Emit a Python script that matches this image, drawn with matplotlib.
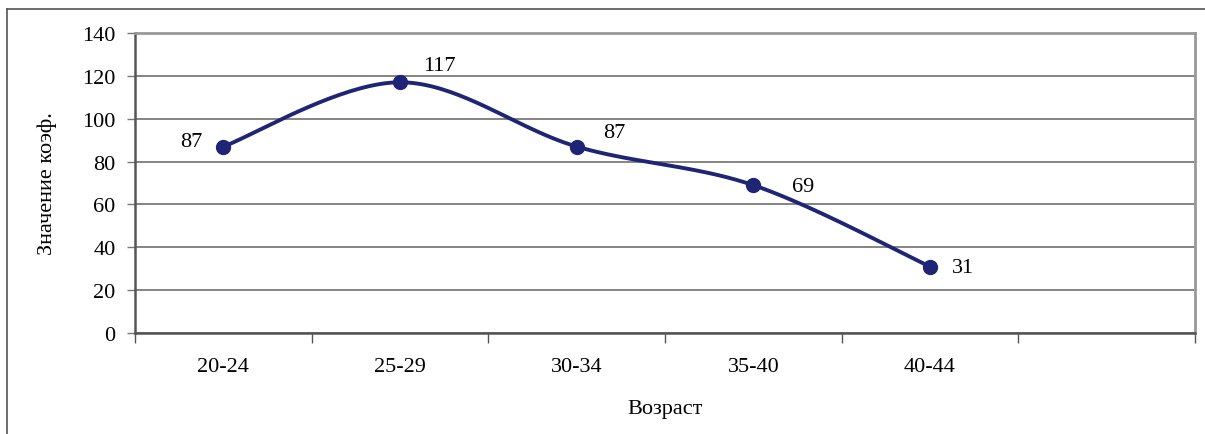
import numpy as np
import matplotlib
matplotlib.use("Agg")
import matplotlib.pyplot as plt

# Age groups and coefficient values
age_groups = ["20-24", "25-29", "30-34", "35-40", "40-44", ""]
values = [87, 117, 87, 69, 31]
y_ticks = [0, 20, 40, 60, 80, 100, 120, 140]

# label offsets (points) for each value
label_offsets = [(-23, 4), (28, 12), (27, 10), (36, -1), (24, -1)]

plt.rcParams['font.family'] = ['Liberation Serif', 'DejaVu Serif']
FS = 16

fig = plt.figure(figsize=(12.05, 4.35), dpi=100)
ax = fig.add_axes([135 / 1205, 1 - 334 / 435, (1195 - 135) / 1205, 300 / 435])

# outer chart frame (top and left edges visible)
fig.add_artist(plt.Line2D([7 / 1205, 1.0], [1 - 10 / 435, 1 - 10 / 435],
                          transform=fig.transFigure, color="#555555", lw=1.2))
fig.add_artist(plt.Line2D([7 / 1205, 7 / 1205], [0.0, 1 - 10 / 435],
                          transform=fig.transFigure, color="#555555", lw=1.2))


def smooth_curve(xs, ys, n=40):
    """Catmull-Rom style smoothed line through the points."""
    pts = np.column_stack([xs, ys]).astype(float)
    out = []
    for i in range(len(pts) - 1):
        p0 = pts[i - 1] if i > 0 else pts[i]
        p1 = pts[i]
        p2 = pts[i + 1]
        p3 = pts[i + 2] if i + 2 < len(pts) else pts[i + 1]
        c1 = p1 + (p2 - p0) / 6.0
        c2 = p2 - (p3 - p1) / 6.0
        t = np.linspace(0, 1, n)[:, None]
        seg = ((1 - t) ** 3) * p1 + 3 * ((1 - t) ** 2) * t * c1 + 3 * (1 - t) * t ** 2 * c2 + t ** 3 * p2
        out.append(seg if i == 0 else seg[1:])
    return np.vstack(out)


xs = np.arange(len(values))
curve = smooth_curve(xs, values)
line_color = "#1F2575"
ax.plot(curve[:, 0], curve[:, 1], color=line_color, lw=2.8, solid_capstyle="round", zorder=3)
ax.plot(xs, values, "o", color=line_color, ms=10, zorder=4)

for x, v, (dx, dy) in zip(xs, values, label_offsets):
    ax.annotate(str(v), (x, v), xytext=(dx, dy), textcoords="offset points",
                ha="center", va="center", fontsize=FS)

ax.set_xlim(-0.5, len(age_groups) - 0.5)
ax.set_ylim(0, 140)
ax.set_yticks(y_ticks)
ax.set_yticklabels([str(t) for t in y_ticks], fontsize=FS)
ax.yaxis.grid(True, color="#707070", lw=1.2)
ax.set_axisbelow(True)

# category tick marks between groups, labels centred in each slot
ax.set_xticks(np.arange(len(age_groups) + 1) - 0.5)
ax.set_xticklabels([])
ax.set_xticks(xs.tolist() + [len(age_groups) - 1], minor=True)
ax.set_xticklabels(age_groups[:len(values)] + [""], minor=True, fontsize=FS)
ax.tick_params(axis="x", which="major", direction="out", length=7, color="#555555", width=1)
ax.tick_params(axis="x", which="minor", length=0, pad=17)
ax.tick_params(axis="y", direction="out", length=6, color="#777777", width=1, pad=8)

for side in ["left", "bottom"]:
    ax.spines[side].set_color("#555555")
    ax.spines[side].set_linewidth(1.8)
for side in ["top", "right"]:
    ax.spines[side].set_color("#999999")
    ax.spines[side].set_linewidth(2.0)

ax.set_xlabel("Возраст", fontsize=FS, labelpad=17)
ax.set_ylabel("Значение коэф.", fontsize=FS, labelpad=18)

fig.savefig("out.png", dpi=100)
